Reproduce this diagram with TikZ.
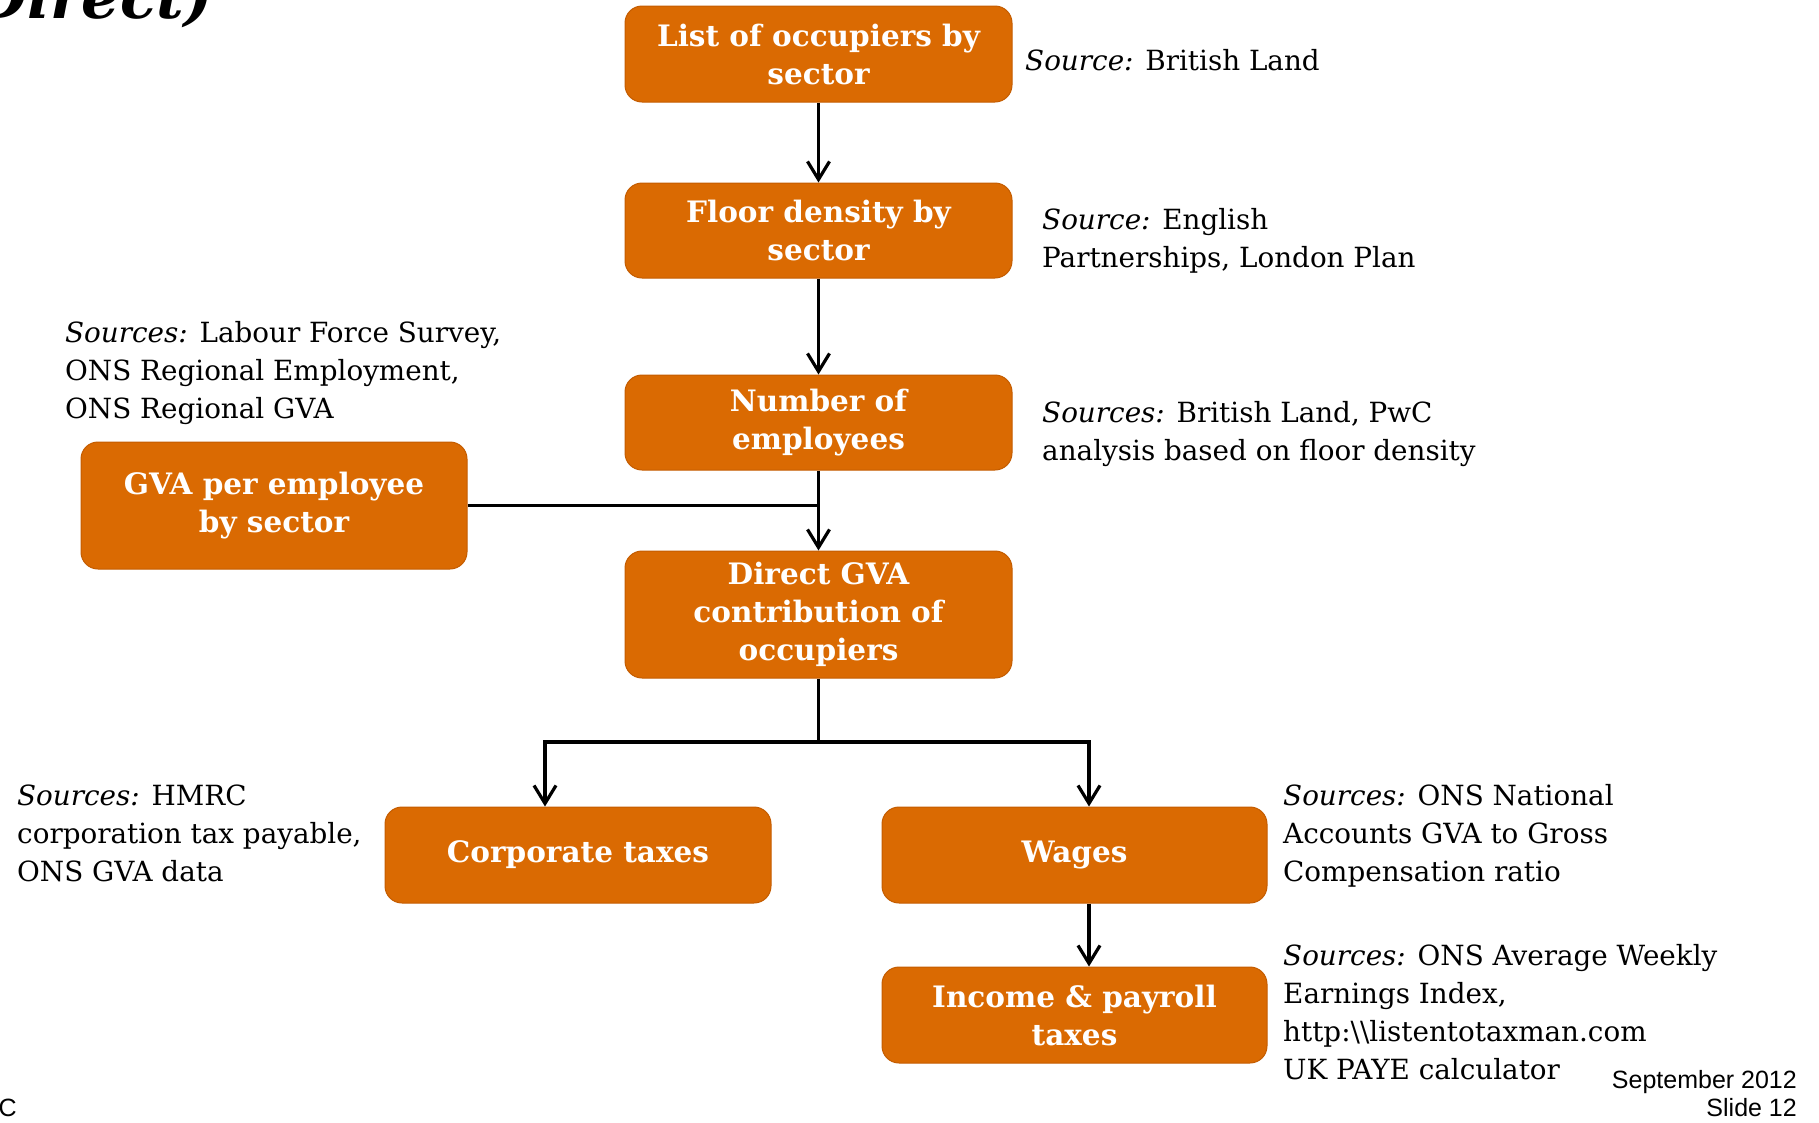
\documentclass[tikz,border=0pt]{standalone}
\usepackage{fontspec}
\setmainfont{DejaVu Serif}
\newfontfamily\arialf{Liberation Sans}
\usetikzlibrary{arrows.meta,calc}
\definecolor{boxorange}{RGB}{218,106,2}
\definecolor{boxedge}{RGB}{196,92,0}
\begin{document}
\begin{tikzpicture}[x=1pt,y=-1pt,
 box/.style={draw=boxedge, line width=1pt, fill=boxorange, rounded corners=17pt,
   minimum width=387pt, minimum height=96pt, inner sep=0pt, align=center,
   text=white, font=\fontsize{29.5}{38}\selectfont\bfseries},
 link/.style={line width=3.2pt, draw=black},
 arr/.style={link, -{Straight Barb[length=18pt, width=22pt]}},
 src/.style={anchor=base west, inner sep=0pt, font=\fontsize{27.8}{38}\selectfont},
 foot/.style={inner sep=0pt, font=\arialf\fontsize{25}{28}\selectfont},
]
\useasboundingbox (0,0) rectangle (1819,1122);
\clip (0,0) rectangle (1819,1122);

% title fragment
\node[anchor=base east, inner sep=0pt, font=\fontsize{60}{60}\selectfont\bfseries\itshape] (title) at (213,18) {Direct)};

% boxes
\node[box] (b1) at (818.5,54) {List of occupiers by\\sector};
\node[box, minimum height=95pt] (b2) at (818.5,230.5) {Floor density by\\sector};
\node[box, minimum height=95pt] (b3) at (818.5,422.5) {Number of\\employees};
\node[box, minimum width=386pt, minimum height=127pt] (gva) at (274,505.5) {GVA per employee\\by sector};
\node[box, minimum height=127pt] (dir) at (818.5,614.5) {Direct GVA\\contribution of\\occupiers};
\node[box, minimum width=386pt] (corp) at (578,855) {Corporate taxes};
\node[box, minimum width=385pt] (wag) at (1074.5,855) {Wages};
\node[box, minimum width=385pt] (inc) at (1074.5,1015) {Income \& payroll\\taxes};

% connectors
\draw[arr] (b1) -- (b2);
\draw[arr] (b2) -- (b3);
\draw[arr] (b3) -- (dir);
\draw[link] (gva.east) -- (gva.east -| b3.south);
\coordinate (split) at (818.5,742);
\draw[link] (dir.south) -- (split);
\draw[arr] (split) -| ([xshift=-33pt]corp.north);
\draw[arr] (split) -| ([xshift=14.5pt]wag.north);
\draw[arr] ([xshift=14.5pt]wag.south) -- ([xshift=14.5pt]inc.north);

% sources
\node[src] (s1) at (1025,70) {\textit{Source:} British Land};
\node[src] (s2) at (1042,229) {\begin{tabular}[t]{@{}l@{}}\textit{Source:} English\\Partnerships, London Plan\end{tabular}};
\node[src] (s3) at (1042,422) {\begin{tabular}[t]{@{}l@{}}\textit{Sources:} British Land, PwC\\analysis based on floor density\end{tabular}};
\node[src] (s4) at (65,342) {\begin{tabular}[t]{@{}l@{}}\textit{Sources:} Labour Force Survey,\\ONS Regional Employment,\\ONS Regional GVA\end{tabular}};
\node[src] (s5) at (17,805) {\begin{tabular}[t]{@{}l@{}}\textit{Sources:} HMRC\\corporation tax payable,\\ONS GVA data\end{tabular}};
\node[src] (s6) at (1283,805) {\begin{tabular}[t]{@{}l@{}}\textit{Sources:} ONS National\\Accounts GVA to Gross\\Compensation ratio\end{tabular}};
\node[src] (s7) at (1283,965) {\begin{tabular}[t]{@{}l@{}}\textit{Sources:} ONS Average Weekly\\Earnings Index,\\http:\textbackslash\textbackslash listentotaxman.com\\UK PAYE calculator\end{tabular}};

% footer
\node[foot, anchor=base east] (pwc) at (17,1116) {C};
\node[foot, anchor=base east] (date) at (1797,1088) {\begin{tabular}[t]{@{}r@{}}September 2012\\Slide 12\end{tabular}};
\end{tikzpicture}
\end{document}
